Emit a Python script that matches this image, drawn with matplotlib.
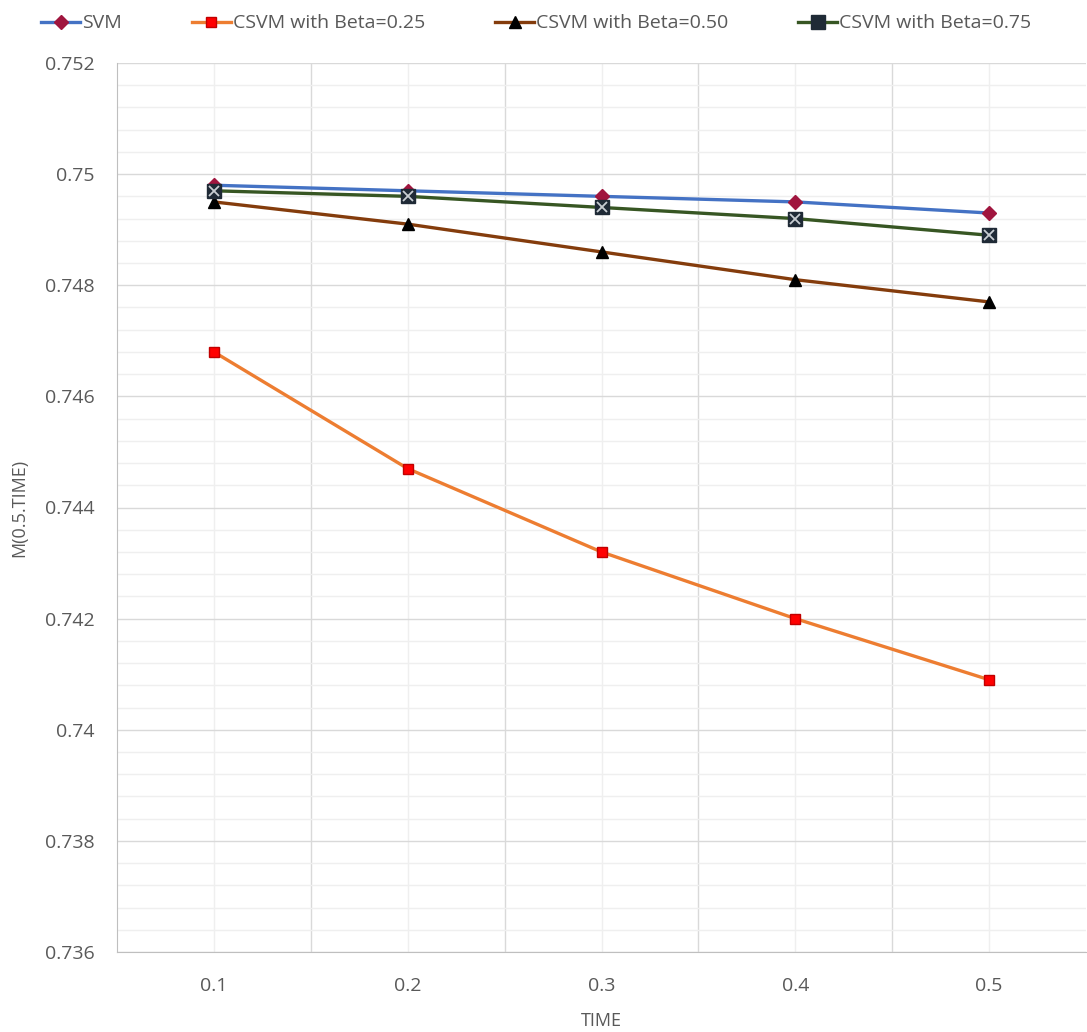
import matplotlib
matplotlib.use("Agg")
import matplotlib.pyplot as plt
from matplotlib.ticker import MultipleLocator, FixedLocator

time = [0.1, 0.2, 0.3, 0.4, 0.5]
svm = [0.7498, 0.7497, 0.7496, 0.7495, 0.7493]
beta025 = [0.7468, 0.7447, 0.7432, 0.7420, 0.7409]
beta050 = [0.7495, 0.7491, 0.7486, 0.7481, 0.7477]
beta075 = [0.7497, 0.7496, 0.7494, 0.7492, 0.7489]
labels = ["SVM", "CSVM with Beta=0.25", "CSVM with Beta=0.50", "CSVM with Beta=0.75"]
xtick_labels = ["0.1", "0.2", "0.3", "0.4", "0.5"]

plt.rcParams['font.family'] = ['Open Sans', 'DejaVu Sans']
txt = '#595959'

fig = plt.figure(figsize=(10.87, 10.32), dpi=100)
ax = fig.add_axes([117/1087, 80/1032, 969/1087, 889/1032])

ax.plot(time, svm, color='#4472C4', lw=2.4, marker='D', ms=7, mfc='#A0153E', mec='#A0153E', label=labels[0], zorder=5)
ax.plot(time, beta025, color='#ED7D31', lw=2.4, marker='s', ms=7.5, mfc='#FF0000', mec='#C00000', label=labels[1], zorder=3)
ax.plot(time, beta050, color='#843C0C', lw=2.4, marker='^', ms=8, mfc='black', mec='black', label=labels[2], zorder=4)
ax.plot(time, beta075, color='#375623', lw=2.4, marker='s', ms=10, mfc='#1F2A36', mec='#1F2A36', label=labels[3], zorder=6)
ax.plot(time, beta075, ls='none', marker='x', ms=7, mec='#C8CDD2', mew=1.3, zorder=7)

ax.set_xlim(0.05, 0.55)
ax.set_ylim(0.736, 0.752)
ax.xaxis.set_major_locator(FixedLocator(time))
ax.set_xticklabels(xtick_labels)
ax.xaxis.set_minor_locator(FixedLocator([0.15, 0.25, 0.35, 0.45]))
ax.yaxis.set_minor_locator(MultipleLocator(0.0004))
ax.set_yticks([0.736, 0.738, 0.740, 0.742, 0.744, 0.746, 0.748, 0.750, 0.752])
ax.set_yticklabels(["0.736", "0.738", "0.74", "0.742", "0.744", "0.746", "0.748", "0.75", "0.752"])

ax.grid(which='major', axis='y', color='#D9D9D9', lw=1.0)
ax.grid(which='minor', axis='y', color='#EFEFEF', lw=1.0)
ax.grid(which='major', axis='x', color='#EFEFEF', lw=1.0)
ax.grid(which='minor', axis='x', color='#D9D9D9', lw=1.0)
ax.set_axisbelow(True)

for s in ['top', 'right']:
    ax.spines[s].set_visible(False)
for s in ['left', 'bottom']:
    ax.spines[s].set_color('#BFBFBF')
ax.tick_params(which='both', length=0, colors=txt, labelsize=14)
ax.tick_params(axis='x', pad=18)
ax.tick_params(axis='y', pad=16)

ax.set_xlabel('TIME', color=txt, fontsize=13, labelpad=12)
ax.set_ylabel('M(0.5.TIME)', color=txt, fontsize=13, labelpad=12)

fig.legend(loc='upper left', bbox_to_anchor=(0.022, 1.003), ncol=4, frameon=False,
           fontsize=14, labelcolor=txt, handlelength=2.0, handletextpad=0.1, columnspacing=3.6)

fig.savefig('out.png', dpi=100)
